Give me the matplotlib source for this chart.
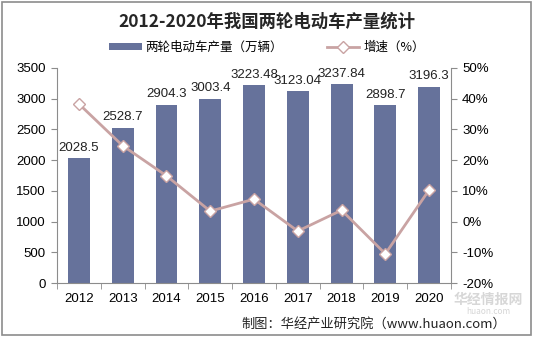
import matplotlib.pyplot as plt
from matplotlib.patches import Rectangle
from matplotlib.ticker import FuncFormatter

plt.rcParams['font.family'] = ['Noto Sans CJK SC', 'DejaVu Sans']

years = ['2012', '2013', '2014', '2015', '2016', '2017', '2018', '2019', '2020']
output = [2028.5, 2528.7, 2904.3, 3003.4, 3223.48, 3123.04, 3237.84, 2898.7, 3196.3]
output_labels = ['2028.5', '2528.7', '2904.3', '3003.4', '3223.48', '3123.04', '3237.84', '2898.7', '3196.3']
growth = [38.3, 24.7, 14.9, 3.4, 7.3, -3.1, 3.7, -10.5, 10.3]

bar_color = '#66729b'
line_color = '#c9a3a3'
num_font = 'Liberation Sans'

fig = plt.figure(figsize=(5.34, 3.37), dpi=100)
fig.patches.append(Rectangle((0.004, 0.006), 0.99, 0.988, transform=fig.transFigure,
                             fill=False, edgecolor='#8c8c8c', linewidth=1.2))

# faint site watermark in the lower right corner
fig.text(0.915, 1 - 300 / 337, '华经情报网', ha='center', va='center', fontsize=10,
         fontweight='bold', color='#bdbdbd', alpha=0.6, zorder=0)
fig.text(0.915, 1 - 312 / 337, 'huaon.com', ha='center', va='center', fontsize=6,
         color='#c4c4c4', alpha=0.7, zorder=0)

ax = fig.add_axes([57 / 534, 1 - 283 / 337, (451 - 57) / 534, (283 - 68) / 337])
ax.patch.set_alpha(0)
x = list(range(len(years)))
bars = ax.bar(x, output, width=0.5, color=bar_color, zorder=2)
for xi, v, s in zip(x, output, output_labels):
    ax.text(xi, v + 70, s, ha='center', va='bottom', fontsize=9.5, family=num_font, color='#222222')

ax.set_xlim(-0.5, len(years) - 0.5)
ax.set_ylim(0, 3500)
ax.set_yticks(range(0, 3501, 500))
ax.set_xticks(x)
ax.set_xticklabels(years)
ax.set_xticks([i + 0.5 for i in range(-1, len(years))], minor=True)
ax.tick_params(axis='x', which='major', length=0, pad=7, labelsize=9.5)
ax.tick_params(axis='x', which='minor', length=4, direction='out', color='#8c8c8c')
ax.tick_params(axis='y', length=4, direction='out', color='#8c8c8c', labelsize=9.5, pad=4)
for lab in ax.get_xticklabels() + ax.get_yticklabels():
    lab.set_family(num_font)
for side in ['top', 'right']:
    ax.spines[side].set_visible(False)
for side in ['left', 'bottom']:
    ax.spines[side].set_color('#8c8c8c')

ax2 = ax.twinx()
line, = ax2.plot(x, growth, color=line_color, linewidth=2, marker='D', markersize=6,
                 markerfacecolor='white', markeredgecolor=line_color, markeredgewidth=1,
                 zorder=3)
ax2.set_ylim(-20, 50)
ax2.set_yticks(range(-20, 51, 10))
ax2.yaxis.set_major_formatter(FuncFormatter(lambda v, p: f'{int(v)}%'))
ax2.tick_params(axis='y', length=4, direction='out', color='#8c8c8c', labelsize=9.5, pad=4)
for lab in ax2.get_yticklabels():
    lab.set_family(num_font)
for side in ['top', 'left', 'bottom']:
    ax2.spines[side].set_visible(False)
ax2.spines['right'].set_color('#8c8c8c')

fig.text(0.5, 1 - 22 / 337, '2012-2020年我国两轮电动车产量统计', ha='center', va='center',
         fontsize=12.5, fontweight='bold', color='#262626')
fig.legend([bars, line], ['两轮电动车产量（万辆）', '增速（%）'], loc='center',
           bbox_to_anchor=(0.5, 1 - 47 / 337), ncol=2, frameon=False, fontsize=9,
           handlelength=2.6, handleheight=0.5, columnspacing=3.5, handletextpad=0.3)

fig.text(0.948, 1 - 324 / 337, '制图：华经产业研究院（www.huaon.com）', ha='right', va='center',
         fontsize=9.5, color='#222222')

fig.savefig('out.png', dpi=100)
